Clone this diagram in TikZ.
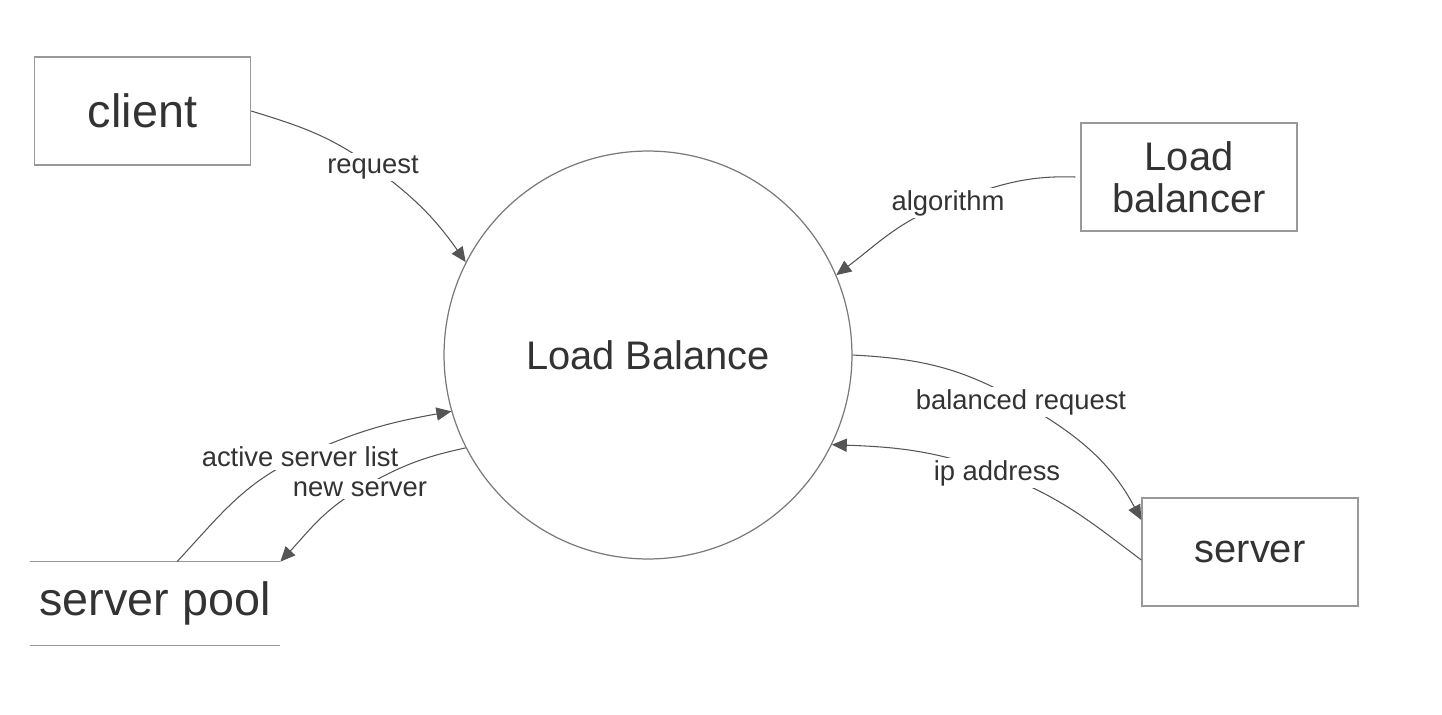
\documentclass[tikz,border=0pt]{standalone}
\usepackage{fontspec}
\setmainfont{Liberation Sans}
\usetikzlibrary{arrows.meta}
\definecolor{txt}{HTML}{333333}
\definecolor{edge}{HTML}{555555}
\definecolor{boxline}{HTML}{999999}
\definecolor{circline}{HTML}{7A7A7A}
\tikzset{
  entity/.style={draw=boxline, line width=0.8pt, minimum width=4.32cm, minimum height=2.16cm, inner sep=0pt, text=txt, align=center},
  proc/.style={circle, draw=circline, line width=0.7pt, minimum size=8.16cm, inner sep=0pt, text=txt, font=\fontsize{22.7}{26}\selectfont},
  flow/.style={draw=edge, line width=0.6pt, -{Triangle[length=8.5pt,width=7.5pt]}},
  lbl/.style={fill=white, inner sep=1.5pt, text=txt, font=\fontsize{15.6}{18}\selectfont},
  bigtxt/.style={font=\fontsize{26.6}{30}\selectfont},
  midtxt/.style={font=\fontsize{22.7}{24}\selectfont}
}
\begin{document}
\begin{tikzpicture}[x=0.02cm,y=0.02cm]
\useasboundingbox (0,0) rectangle (1442,-714);
\node[proc] (circ) at (648,-355) {Load Balance};
\node[entity, bigtxt] (client) at (142.5,-111) {client};
\node[entity, midtxt] (lb) at (1189,-177) {Load\\balancer};
\node[entity, midtxt] (server) at (1250,-552) {server};
\node[minimum width=5cm, minimum height=1.66cm, inner sep=0pt, text=txt, bigtxt] (pool) at (155,-603.5) {server pool};
\draw[boxline, line width=0.8pt] (pool.north west) -- (pool.north east);
\draw[boxline, line width=0.8pt] (pool.south west) -- (pool.south east);

\coordinate (reqpos) at (373,-167);
\coordinate (algpos) at (948,-203);
\coordinate (balpos) at (1021,-402);
\coordinate (ippos) at (997,-473);
\coordinate (aslpos) at (300,-457);
\coordinate (nspos) at (360,-489);
\coordinate (srvin) at ([yshift=0.64cm]server.west);
\coordinate (srvout) at ([yshift=-0.16cm]server.west);
\coordinate (poolout) at ([xshift=0.44cm]pool.north);

\draw[flow] (client.east) to[out=-17,in=144] (reqpos) node[lbl] (reqlbl) {request} to[out=-36,in=125] (circ.153);
\draw[flow] ([xshift=-0.1cm]lb.west) to[out=178,in=20] (algpos) node[lbl] (alglbl) {algorithm} to[out=200,in=37] (circ.23);
\draw[flow] (circ.0) to[out=-3,in=150] (balpos) node[lbl] (ballbl) {balanced request} to[out=-30,in=118] (srvin);
\draw[flow] (srvout) to[out=143,in=-20] (ippos) node[lbl] (iplbl) {ip address} to[out=160,in=-2] (circ.-26.6);
\draw[flow] (poolout) to[out=47,in=205] (aslpos) node[lbl] (asllbl) {active server list} to[out=25,in=190] (circ.196.5);
\draw[flow] (circ.207.7) to[out=192,in=30] (nspos) node[lbl] (nslbl) {new server} to[out=210,in=47] (pool.north east);
\end{tikzpicture}
\end{document}
